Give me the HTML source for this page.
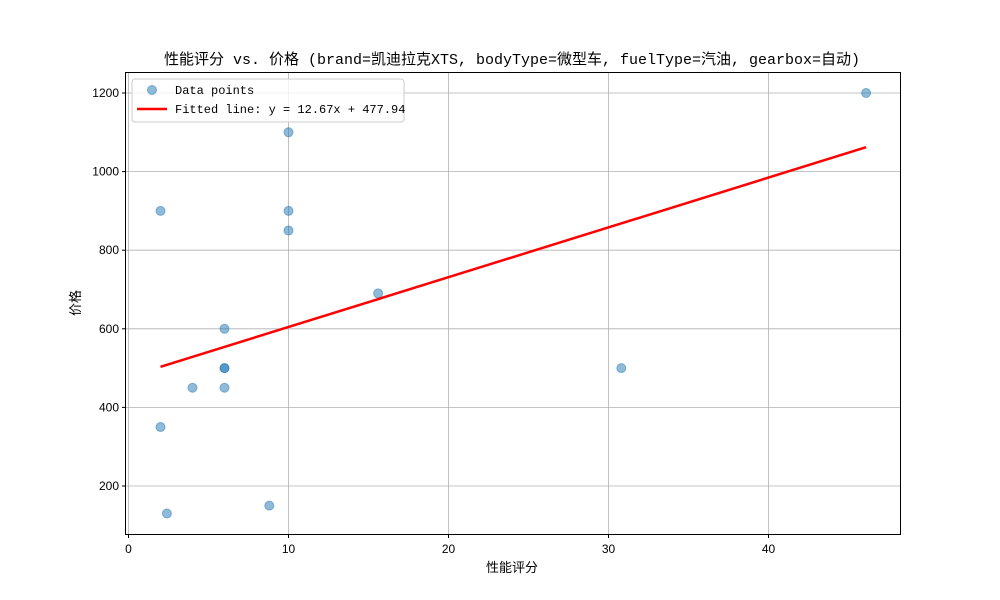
<!DOCTYPE html>
<html><head><meta charset="utf-8"><style>
body{margin:0;background:#fff;}
svg{display:block;}
.t{font-family:"Liberation Sans","WenQuanYi Zen Hei",sans-serif;font-size:12px;fill:#000;}
.m{font-family:"Liberation Mono","WenQuanYi Zen Hei",monospace;fill:#000;}
</style></head><body>
<svg id="chart" width="1000" height="600" xmlns="http://www.w3.org/2000/svg">
<rect width="1000" height="600" fill="#fff"/>
<g id="grid"></g>
<g id="ticks"></g>
<g id="pts"></g>
<g id="fit"></g>
<rect x="125.5" y="72.5" width="775" height="462" fill="none" stroke="#000" stroke-width="1"/>
<text class="m" x="512" y="64" text-anchor="middle" font-size="15">性能评分 vs. 价格 (brand=凯迪拉克XTS, bodyType=微型车, fuelType=汽油, gearbox=自动)</text>
<text class="m" x="512" y="572" text-anchor="middle" font-size="13">性能评分</text>
<text class="m" x="80" y="303" text-anchor="middle" font-size="13" transform="rotate(-90 80 303)">价格</text>
<g>
<rect x="132" y="79" width="272" height="43" rx="3" fill="#fff" fill-opacity="0.8" stroke="#ccc"/>
<circle cx="152" cy="90" r="4.5" fill="#1f77b4" fill-opacity="0.5" stroke="#1f77b4" stroke-opacity="0.5"/>
<text class="m" x="175" y="94" font-size="12">Data points</text>
<line x1="137" y1="109" x2="167" y2="109" stroke="red" stroke-width="2.5"/>
<text class="m" x="175" y="113" font-size="12">Fitted line: y = 12.67x + 477.94</text>
</g>
</svg>
<script>
const xVals=[2,2,2.4,4,6,6,6,6,8.8,10,10,10,15.6,30.8,46.1];
const yVals=[900,350,130,450,600,500,500,450,150,1100,900,850,690,500,1200];
const xTicks=[0,10,20,30,40];
const yTicks=[200,400,600,800,1000,1200];
const slope=12.67, intercept=477.94;
const NS='http://www.w3.org/2000/svg';
const sx=v=>128.5+v*16;
const sy=v=>486-(v-200)*0.393;
function mk(tag,attrs,parent){const e=document.createElementNS(NS,tag);for(const k in attrs)e.setAttribute(k,attrs[k]);document.getElementById(parent).appendChild(e);return e;}
xTicks.forEach(v=>{
 const g=mk('line',{x1:sx(v),x2:sx(v),y1:72.5,y2:534.5,stroke:'#b0b0b0','stroke-width':0.8},'grid');
 
 
 const tk=mk('line',{x1:sx(v),x2:sx(v),y1:534.5,y2:538,stroke:'#000'},'ticks');
 
 
 const t=mk('text',{x:sx(v),y:553,'text-anchor':'middle',class:'t'},'ticks');t.textContent=v;
 
 
});
yTicks.forEach(v=>{
 const g=mk('line',{x1:125.5,x2:900.5,y1:sy(v),y2:sy(v),stroke:'#b0b0b0','stroke-width':0.8},'grid');
 
 
 const tk=mk('line',{x1:122,x2:125.5,y1:sy(v),y2:sy(v),stroke:'#000'},'ticks');
 
 
 const t=mk('text',{x:119,y:sy(v)+4,'text-anchor':'end',class:'t'},'ticks');t.textContent=v;
 
 
});
xVals.forEach((x,i)=>{
 const c=mk('circle',{cx:sx(x),cy:sy(yVals[i]),r:4.5,fill:'#1f77b4','fill-opacity':0.5,stroke:'#1f77b4','stroke-opacity':0.5},'pts');
 
 
});
const xmin=Math.min(...xVals),xmax=Math.max(...xVals);
const l=mk('line',{x1:sx(xmin),y1:sy(slope*xmin+intercept),x2:sx(xmax),y2:sy(slope*xmax+intercept),stroke:'red','stroke-width':2.5},'fit');


</script>
</body></html>
